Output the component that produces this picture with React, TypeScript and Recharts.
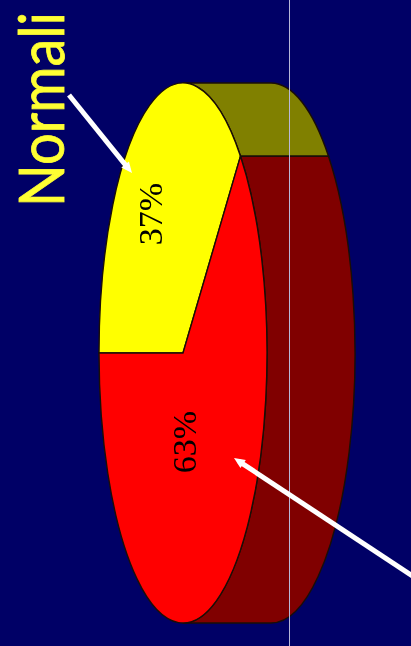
import React from 'react';
import { PieChart, Pie, Cell } from 'recharts';

const sliceNames = ['Normali', 'Altri'];
const sliceValues = [37, 63];
const topColors = ['#ffff00', '#ff0000'];
const wallColors = ['#808000', '#800000'];
const labelAnchors = [
	{ x: 150, y: 214 },
	{ x: 184, y: 442 },
];

const chartData = sliceNames.map((name, i) => ({ name, value: sliceValues[i] }));

const WIDTH = 411;
const HEIGHT = 646;
const RX = 84;
const DEPTH = 88;
const EDGE = '#1a0e06';

// recharts only draws round slices, so squash them and pull out the side wall here
const TiltedSlice = (props: any) => {
	const { cx, cy, outerRadius, startAngle, endAngle, index } = props;
	const pt = (a: number, dx = 0) => {
		const r = (a * Math.PI) / 180;
		return `${cx + dx + RX * Math.cos(r)} ${cy - outerRadius * Math.sin(r)}`;
	};
	const large = endAngle - startAngle > 180 ? 1 : 0;
	const top = `M${cx} ${cy} L${pt(startAngle)} A${RX} ${outerRadius} 0 ${large} 0 ${pt(endAngle)} Z`;

	const walls: string[] = [];
	[0, 360].forEach(k => {
		const a1 = Math.max(startAngle, k - 90);
		const a2 = Math.min(endAngle, k + 90);
		if (a2 > a1) {
			walls.push(
				`M${pt(a1)} A${RX} ${outerRadius} 0 0 0 ${pt(a2)} L${pt(a2, DEPTH)} A${RX} ${outerRadius} 0 0 1 ${pt(a1, DEPTH)} Z`,
			);
		}
	});

	return (
		<g>
			{walls.map(d => (
				<path key={d} d={d} fill={wallColors[index]} stroke={EDGE} strokeWidth={1.4} />
			))}
			<path d={top} fill={topColors[index]} stroke={EDGE} strokeWidth={1.4} />
		</g>
	);
};

const renderLabel = (props: any) => {
	const { index, value } = props;
	const { x, y } = labelAnchors[index];
	return (
		<text
			x={x}
			y={y}
			transform={`rotate(-90 ${x} ${y})`}
			textAnchor='middle'
			dominantBaseline='central'
			fontFamily='"Liberation Serif", serif'
			fontSize={34}
			fill='#000000'
		>
			{value}%
		</text>
	);
};

const Arrow = ({ x1, y1, x2, y2 }: { x1: number; y1: number; x2: number; y2: number }) => {
	const ang = Math.atan2(y2 - y1, x2 - x1);
	const wing = (off: number, len: number) =>
		`${x2 - len * Math.cos(ang + off)} ${y2 - len * Math.sin(ang + off)}`;
	return (
		<g>
			<line x1={x1} y1={y1} x2={x2 - 6 * Math.cos(ang)} y2={y2 - 6 * Math.sin(ang)} stroke='#ffffff' strokeWidth={5} />
			<path d={`M${x2} ${y2} L${wing(0.42, 12)} L${wing(-0.42, 12)} Z`} fill='#ffffff' />
		</g>
	);
};

export default function App() {
	return (
		<div style={{ position: 'absolute', left: 0, top: 0, width: WIDTH, height: HEIGHT, background: '#000066', overflow: 'hidden' }}>
			<div style={{ position: 'absolute', left: 0, top: 0, filter: 'blur(0.7px)', width: WIDTH, height: HEIGHT }}>
				<PieChart width={WIDTH} height={HEIGHT} margin={{ top: 0, right: 0, bottom: 0, left: 0 }}>
					<Pie
						data={chartData}
						dataKey='value'
						nameKey='name'
						cx={183}
						cy={353}
						innerRadius={0}
						outerRadius={270}
						startAngle={46.8}
						endAngle={406.8}
						stroke='none'
						shape={TiltedSlice}
						label={renderLabel}
						labelLine={false}
						isAnimationActive={false}
					>
						{chartData.map((d, i) => (
							<Cell key={d.name} fill={topColors[i]} />
						))}
					</Pie>
				</PieChart>
			</div>
			<div style={{ position: 'absolute', left: 289, top: 0, width: 1, height: HEIGHT, background: '#b8b8d8' }} />
			{/* callouts sit above the pie layer, recharts would put them under it */}
			<svg width={WIDTH} height={HEIGHT} style={{ position: 'absolute', left: 0, top: 0, filter: 'blur(0.6px)' }}>
				<text
					x={64}
					y={207}
					transform='rotate(-90 64 207)'
					fontFamily='Lato, sans-serif'
					fontSize={62}
					fill='#ffff33'
					stroke='#ffff33'
					strokeWidth={0.8}
					textLength={195}
					lengthAdjust='spacingAndGlyphs'
				>
					{sliceNames[0]}
				</text>
				<Arrow x1={69} y1={95} x2={132} y2={173} />
				<Arrow x1={414} y1={577} x2={234} y2={458} />
			</svg>
		</div>
	);
}
